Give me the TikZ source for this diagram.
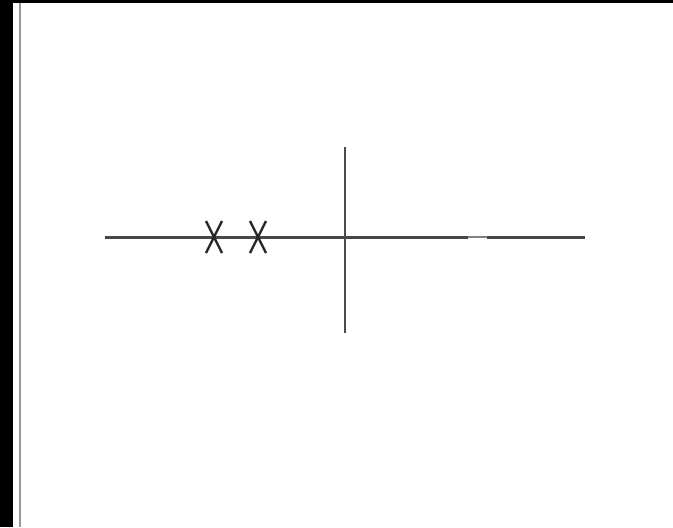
\documentclass[tikz,border=0pt]{standalone}
\usetikzlibrary{calc}

\begin{document}
\begin{tikzpicture}[
  x=0.2mm,y=-0.2mm,
  axis/.style={line width=1.7pt,draw=black!72},
  faint/.style={line width=1.5pt,draw=black!50},
  vert/.style={line width=1.2pt,draw=black!70},
  cross/.style={line width=1.3pt,draw=black!85},
  edge/.style={line width=1.1pt,draw=black!40}
]
\useasboundingbox (0,0) rectangle (673,527);

% ================= frame =================
\fill[black] (0,0) rectangle (13,527);
\fill[black] (0,0) rectangle (673,3);
\draw[edge] (20,3) -- (20,527);

% ================= real axis =================
\coordinate (L) at (105,237);
\coordinate (G1) at (468,237);
\coordinate (G2) at (487,237);
\coordinate (R) at (585,237);
\draw[faint] (G1) -- (G2);
\draw[axis] (L) -- (G1);
\draw[axis] (G2) -- (R);

% ================= imaginary axis =================
\coordinate (T) at (345,147);
\coordinate (B) at (345,333);
\draw[vert] (T) -- (B);

% ================= poles =================
\foreach \px in {214,258}{
  \draw[cross] (\px-8,221) -- (\px+8,253);
  \draw[cross] (\px+8,221) -- (\px-8,253);
}

\end{tikzpicture}
\end{document}
